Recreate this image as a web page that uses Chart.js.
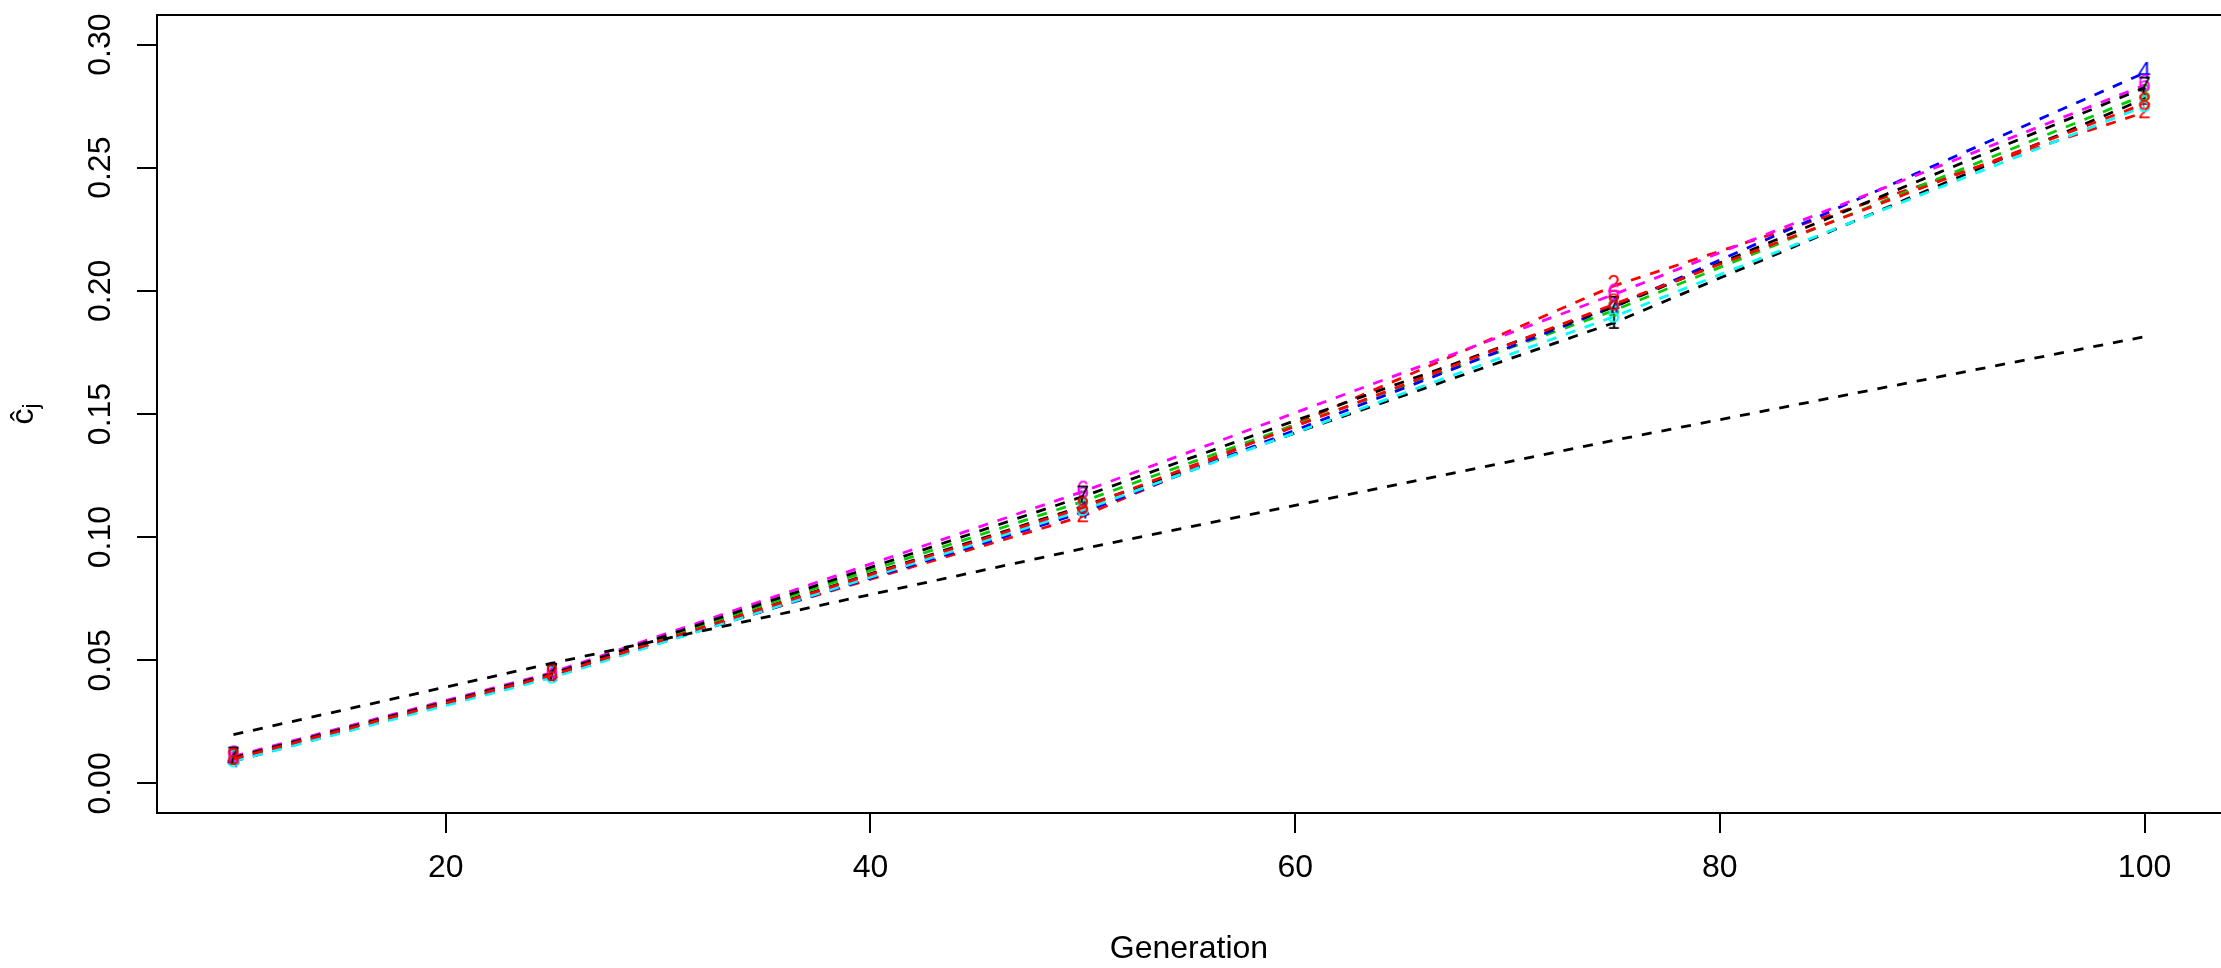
<!DOCTYPE html>
<html>
<head>
<meta charset="utf-8">
<script src="https://cdn.jsdelivr.net/npm/chart.js@4.4.1/dist/chart.umd.min.js"></script>
<style>
  html, body { margin: 0; padding: 0; background: #fff; }
  #plot { display: block; }
</style>
</head>
<body>
<canvas id="plot" width="2221" height="968"></canvas>
<script>
const generations = [10, 25, 50, 75, 100];

const series1 = [0.0100, 0.0440, 0.1125, 0.1870, 0.2780];
const series2 = [0.0105, 0.0445, 0.1085, 0.2020, 0.2725];
const series3 = [0.0100, 0.0445, 0.1145, 0.1920, 0.2795];
const series4 = [0.0090, 0.0435, 0.1100, 0.1935, 0.2885];
const series5 = [0.0090, 0.0430, 0.1110, 0.1895, 0.2750];
const series6 = [0.0110, 0.0450, 0.1185, 0.1985, 0.2835];
const series7 = [0.0105, 0.0445, 0.1165, 0.1935, 0.2825];
const series8 = [0.0100, 0.0440, 0.1120, 0.1945, 0.2760];
const expected = [0.0198, 0.0488, 0.0953, 0.1393, 0.1814];

const seriesLabels = ["1", "2", "3", "4", "5", "6", "7", "8"];
const xTickValues = [20, 40, 60, 80, 100];
const yTickValues = [0, 0.05, 0.10, 0.15, 0.20, 0.25, 0.30];

const seriesValues = [series1, series2, series3, series4, series5, series6, series7, series8];
const seriesColors = ["#000000", "#FF0000", "#00CD00", "#0000FF", "#00FFFF", "#FF00FF", "#000000", "#FF0000"];
const FONT = "'Liberation Sans', Arial, sans-serif";

// R-style character markers ("1", "2", ...) as small canvases
function digitMarker(ch, color) {
  const c = document.createElement("canvas");
  c.width = 28;
  c.height = 32;
  const g = c.getContext("2d");
  g.fillStyle = color;
  g.font = "23px " + FONT;
  g.textAlign = "center";
  g.textBaseline = "middle";
  g.fillText(ch, 14, 16);
  return c;
}

const datasets = seriesValues.map((vals, i) => ({
  label: seriesLabels[i],
  data: generations.map((g, k) => ({ x: g, y: vals[k] })),
  borderColor: seriesColors[i],
  borderWidth: 2.8,
  borderDash: [10, 10],
  pointStyle: digitMarker(seriesLabels[i], seriesColors[i]),
  pointRadius: 6,
  fill: false,
  tension: 0,
  order: 20 - i
}));

datasets.push({
  label: "expected",
  data: generations.map((g, k) => ({ x: g, y: expected[k] })),
  borderColor: "#000000",
  borderWidth: 2.8,
  borderDash: [10, 10],
  pointRadius: 0,
  fill: false,
  tension: 0,
  order: 1
});

// box top, rotated y tick labels and y title, like base R graphics
const rAxis = {
  id: "rAxis",
  afterDraw(chart) {
    const { ctx, chartArea } = chart;
    const y = chart.scales.y;
    ctx.save();
    ctx.strokeStyle = "#000";
    ctx.lineWidth = 2;
    ctx.beginPath();
    ctx.moveTo(chartArea.left, chartArea.top);
    ctx.lineTo(chart.width, chartArea.top);
    ctx.stroke();

    ctx.fillStyle = "#000";
    ctx.font = "32px " + FONT;
    ctx.textAlign = "center";
    ctx.textBaseline = "middle";
    y.ticks.forEach(t => {
      const py = y.getPixelForValue(t.value);
      ctx.save();
      ctx.translate(101, py);
      ctx.rotate(-Math.PI / 2);
      ctx.fillText(t.label, 0, 0);
      ctx.restore();
    });

    ctx.translate(24, (chartArea.top + chartArea.bottom) / 2);
    ctx.rotate(-Math.PI / 2);
    ctx.font = "32px " + FONT;
    const w1 = ctx.measureText("\u0109").width;
    ctx.font = "22px " + FONT;
    const w2 = ctx.measureText("j").width;
    const start = -(w1 + w2) / 2;
    ctx.textAlign = "left";
    ctx.font = "32px " + FONT;
    ctx.fillText("\u0109", start, 0);
    ctx.font = "22px " + FONT;
    ctx.fillText("j", start + w1, 8);
    ctx.restore();
  }
};

new Chart(document.getElementById("plot"), {
  type: "line",
  data: { datasets },
  options: {
    responsive: false,
    devicePixelRatio: 1,
    animation: false,
    layout: { autoPadding: false, padding: { top: 15, right: 0, left: 0, bottom: 0 } },
    plugins: { legend: { display: false }, tooltip: { enabled: false } },
    scales: {
      x: {
        type: "linear",
        min: 6.4,
        max: 103.6,
        afterBuildTicks: s => { s.ticks = xTickValues.map(v => ({ value: v })); },
        afterFit: s => { s.height = 155; s.paddingLeft = 0; s.paddingRight = 0; },
        grid: { drawOnChartArea: false, drawTicks: true, tickLength: 20, color: "#000", lineWidth: 2 },
        border: { display: true, color: "#000", width: 2 },
        ticks: { color: "#000", font: { family: FONT, size: 32 }, padding: 16, maxRotation: 0, callback: v => String(v) },
        title: { display: true, text: "Generation", color: "#000", font: { family: FONT, size: 32 }, padding: { top: 0, bottom: 0 } }
      },
      y: {
        type: "linear",
        min: -0.012,
        max: 0.312,
        afterBuildTicks: s => { s.ticks = yTickValues.map(v => ({ value: v })); },
        afterFit: s => { s.width = 157; s.paddingTop = 0; s.paddingBottom = 0; },
        grid: { drawOnChartArea: false, drawTicks: true, tickLength: 20, color: "#000", lineWidth: 2 },
        border: { display: true, color: "#000", width: 2 },
        ticks: { color: "rgba(0,0,0,0)", font: { family: FONT, size: 32 }, callback: v => v.toFixed(2) }
      }
    }
  },
  plugins: [rAxis]
});
</script>
</body>
</html>
